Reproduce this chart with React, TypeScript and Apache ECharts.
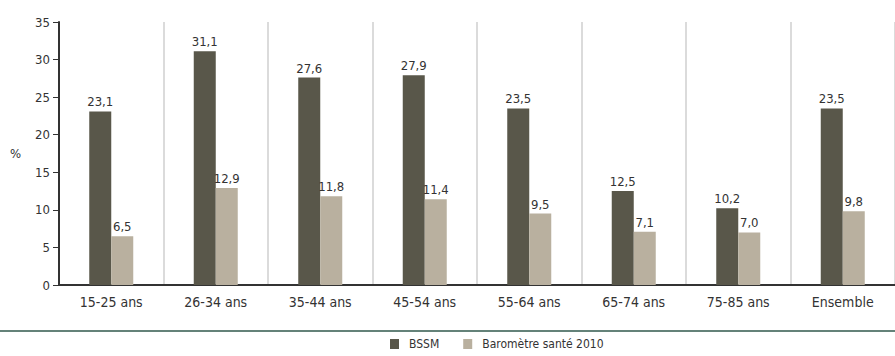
import React, { useEffect, useRef } from "react";
import * as echarts from "echarts";

const categories = ["15-25 ans", "26-34 ans", "35-44 ans", "45-54 ans", "55-64 ans", "65-74 ans", "75-85 ans", "Ensemble"];
const bssm = [23.1, 31.1, 27.6, 27.9, 23.5, 12.5, 10.2, 23.5];
const barometre = [6.5, 12.9, 11.8, 11.4, 9.5, 7.1, 7.0, 9.8];
const seriesNames = ["BSSM", "Baromètre santé 2010"];

const FONT = "'Liberation Sans Narrow', 'DejaVu Sans Condensed', 'Roboto', sans-serif";

export default function App() {
  const ref = useRef<HTMLDivElement>(null);
  useEffect(() => {
    document.body.style.margin = "0";
    const chart = echarts.init(ref.current!, null, { renderer: "svg" });
    const label = {
      show: true,
      position: "top" as const,
      distance: 3,
      color: "#333",
      fontFamily: FONT,
      fontSize: 13,
      formatter: (p: any) => Number(p.value).toFixed(1).replace(".", ","),
    };
    chart.setOption({
      animation: false,
      textStyle: { fontFamily: FONT },
      grid: { left: 59, right: 0, top: 22, bottom: 71, containLabel: false },
      legend: {
        top: 337,
        left: 390,
        padding: 0,
        itemWidth: 9,
        itemHeight: 10,
        itemGap: 24,
        icon: "rect",
        textStyle: { fontFamily: FONT, fontSize: 12, lineHeight: 14, color: "#333", padding: [0, 0, 0, 5] },
        data: seriesNames,
      },
      xAxis: {
        type: "category",
        data: categories,
        axisLine: { lineStyle: { color: "#333", width: 2 } },
        axisTick: { show: false },
        axisLabel: { color: "#333", fontSize: 14, fontFamily: FONT, margin: 10 },
        splitLine: { show: true, lineStyle: { color: "#cfcfcf", width: 1.5 } },
      },
      yAxis: {
        type: "value",
        min: 0,
        max: 35,
        interval: 5,
        name: "%",
        nameLocation: "middle",
        nameRotate: 0,
        nameGap: 38,
        nameTextStyle: { color: "#333", fontSize: 13, fontFamily: FONT },
        axisLine: { show: true, lineStyle: { color: "#333", width: 2 } },
        axisTick: { show: true, length: 6, lineStyle: { color: "#333" } },
        axisLabel: { color: "#333", fontSize: 13, fontFamily: FONT, margin: 9 },
        splitLine: { show: false },
      },
      graphic: [
        {
          type: "line",
          shape: { x1: 0, y1: 331, x2: 895, y2: 331 },
          style: { stroke: "#648279", lineWidth: 2 },
        },
      ],
      series: [
        {
          name: seriesNames[0],
          type: "bar",
          data: bssm,
          barWidth: 22,
          barGap: "0%",
          itemStyle: { color: "#59574a" },
          label,
        },
        {
          name: seriesNames[1],
          type: "bar",
          data: barometre,
          barWidth: 22,
          barGap: "0%",
          itemStyle: { color: "#b9b09f" },
          label,
        },
      ],
    });
    return () => chart.dispose();
  }, []);
  return <div ref={ref} style={{ width: 895, height: 356 }} />;
}
